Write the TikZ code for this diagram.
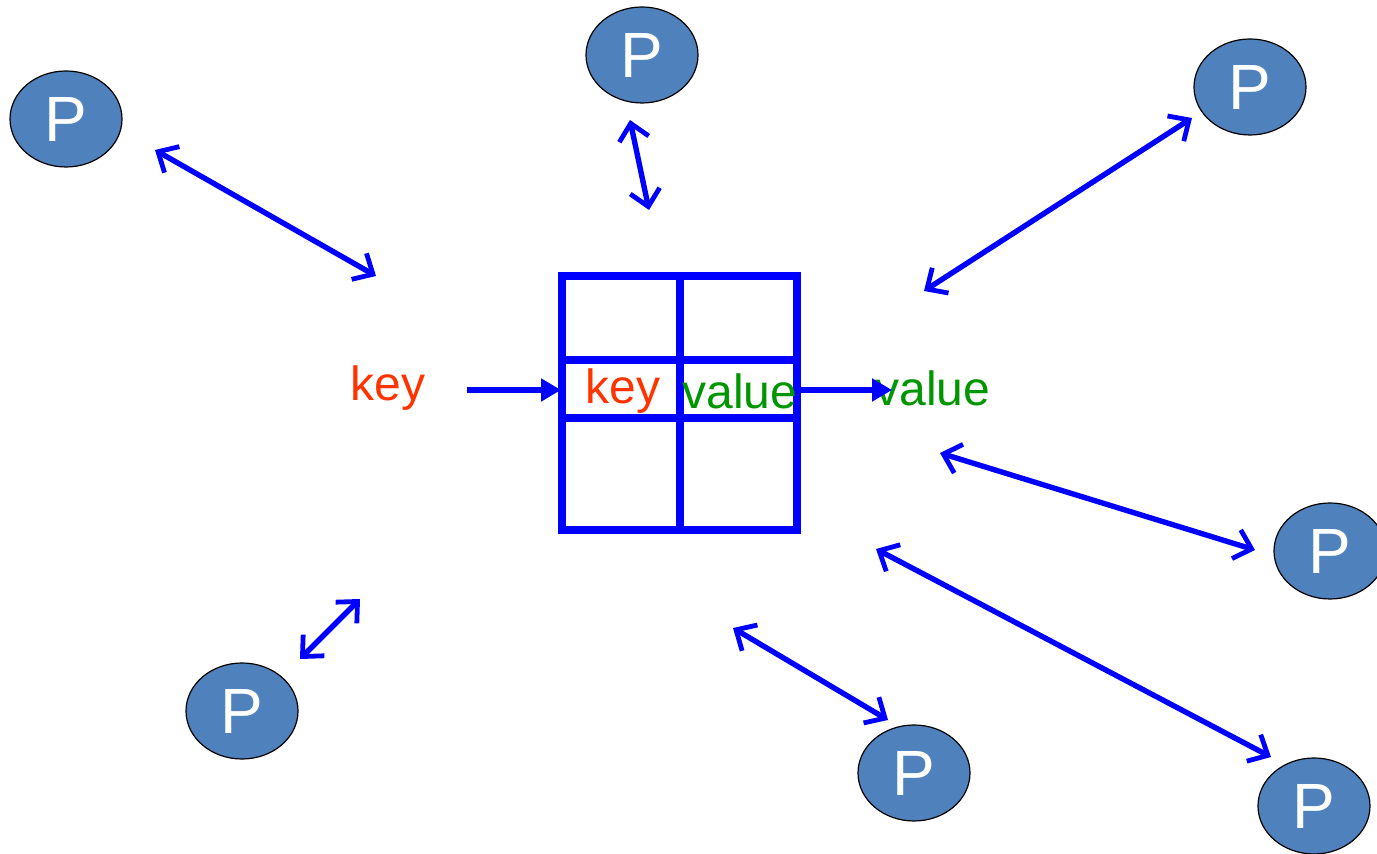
\documentclass[tikz,border=0pt]{standalone}
\usepackage{fontspec}
\setmainfont{Liberation Sans}
\usetikzlibrary{arrows.meta,shapes.geometric}

\definecolor{pblue}{RGB}{79,129,189}
\definecolor{keyred}{RGB}{255,51,0}
\definecolor{valgreen}{RGB}{0,150,0}

\tikzset{
    proc/.style={ellipse, draw=black, line width=0.6pt, fill=pblue, text=white,
        minimum width=56pt, minimum height=48pt, inner sep=0pt,
        font=\fontsize{32}{32}\selectfont},
    link/.style={blue, line width=2.7pt, {Straight Barb[length=8pt,width=15pt,line width=2.4pt]}-{Straight Barb[length=8pt,width=15pt,line width=2.4pt]}},
    feed/.style={blue, line width=3pt, -{Triangle[length=10pt,width=11pt]}},
    keytext/.style={text=keyred, font=\fontsize{24}{24}\selectfont, inner sep=0pt},
    valtext/.style={text=valgreen, font=\fontsize{24}{24}\selectfont, inner sep=0pt}
}

\begin{document}
\begin{tikzpicture}[x=0.5pt, y=-0.5pt]
    \useasboundingbox (0,0) rectangle (1377,854);

    % Processes
    \node[proc] (p1) at (66,119) {P};
    \node[proc] (p2) at (642,55) {P};
    \node[proc] (p3) at (1250,87) {P};
    \node[proc] (p4) at (1330,551) {P};
    \node[proc] (p5) at (242,711) {P};
    \node[proc] (p6) at (914,773) {P};
    \node[proc] (p7) at (1314,806) {P};

    % The table
    \draw[blue, line width=3.6pt] (562,276) rectangle (797,530);
    \draw[blue, line width=3.6pt] (680,276) -- (680,530);
    \draw[blue, line width=3.6pt] (562,360) -- (797,360);
    \draw[blue, line width=3.6pt] (562,418) -- (797,418);

    % Keys and values
    \node[keytext] (key) at (388,388) {key};
    \node[keytext] (cellkey) at (623,391) {key};
    \node[valtext] (cellval) at (740,391) {value};
    \node[valtext] (val) at (933,388) {value};

    \coordinate (keyout) at (467,390);
    \coordinate (tabin) at (561,390);
    \coordinate (tabout) at (797,390);
    \coordinate (valin) at (892,390);
    \draw[feed] (keyout) -- (tabin);
    \draw[feed] (tabout) -- (valin);

    % Links between the processes and the table
    \coordinate (a1) at (155,150);  \coordinate (b1) at (376,276);
    \coordinate (a2) at (630,120);  \coordinate (b2) at (649,210);
    \coordinate (a3) at (1192,118); \coordinate (b3) at (924,291);
    \coordinate (a4) at (1255,550); \coordinate (b4) at (940,453);
    \coordinate (a5) at (300,659);  \coordinate (b5) at (360,599);
    \coordinate (a6) at (888,720);  \coordinate (b6) at (733,628);
    \coordinate (a7) at (1271,757); \coordinate (b7) at (876,549);
    \foreach \i in {1,...,7} {
        \draw[link] (a\i) -- (b\i);
    }
\end{tikzpicture}
\end{document}
